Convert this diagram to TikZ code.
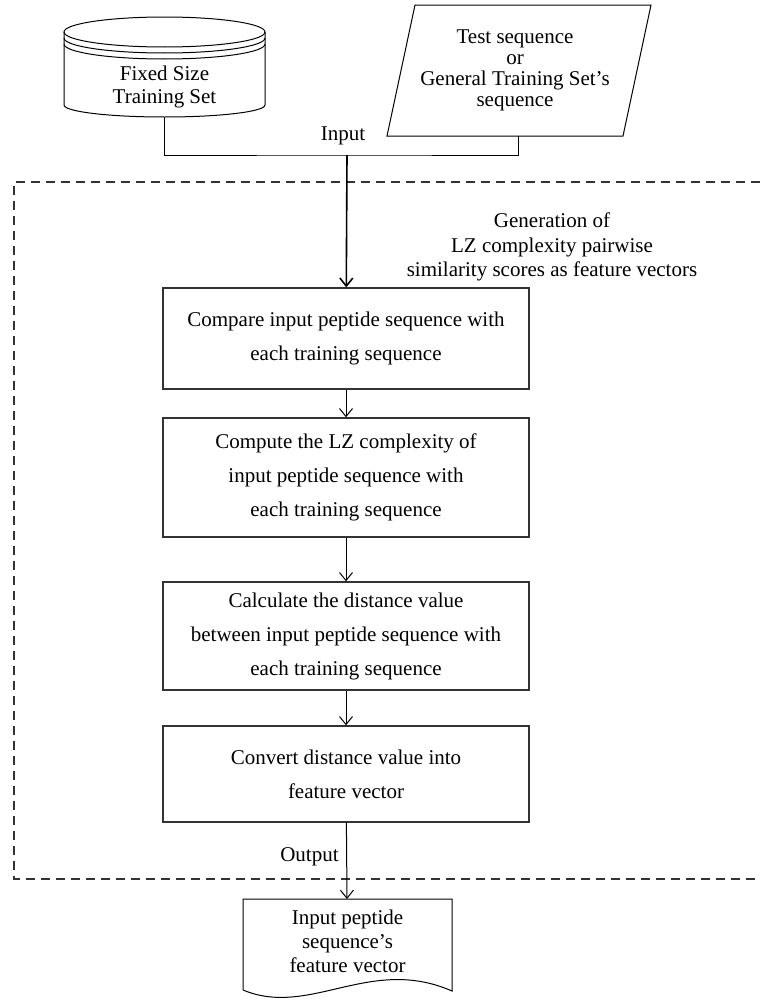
\documentclass[tikz,border=0pt]{standalone}
\usepackage{fontspec}
\setmainfont{Liberation Serif}
\usetikzlibrary{arrows.meta}

\tikzset{
  txt/.style={align=center,inner sep=0pt,font=\fontsize{21}{23}\selectfont},
  stepbox/.style={draw=black!80,line width=1.4pt,minimum width=366pt,align=center,font=\fontsize{21}{34}\selectfont},
  conn/.style={line width=1pt},
  arr/.style={line width=1pt,-{Straight Barb[length=8pt,width=13pt]}},
  frame/.style={dash pattern=on 9pt off 6pt,line width=1.2pt,draw=black!80},
}

\begin{document}
\begin{tikzpicture}[x=1pt,y=-1pt]
\useasboundingbox (0,0) rectangle (760,1001);

% training set
\draw[conn] (164.5,32) ellipse [x radius=100.5,y radius=15];
\draw[conn] (64,38) arc[start angle=180,end angle=0,x radius=100.5,y radius=15];
\draw[conn] (64,44) arc[start angle=180,end angle=0,x radius=100.5,y radius=15];
\draw[conn] (64,32) -- (64,105) arc[start angle=180,end angle=0,x radius=100.5,y radius=12] -- (265,32);
\node[txt] (train) at (164.5,87) {Fixed Size\\Training Set};
\coordinate (trainbot) at (164.5,117);

% test sequence
\draw[conn] (415,5) -- (651,5) -- (623,136) -- (387,136) -- cycle;
\node[txt,font=\fontsize{21}{21}\selectfont] (test) at (515,70) {Test sequence\\or\\General Training Set’s\\sequence};
\coordinate (testbot) at (518,136);

\node[txt] (inlbl) at (343,136) {Input};
\coordinate (join) at (347,155);
\draw[conn] (trainbot) |- (join) -| (testbot);

% dashed frame
\draw[frame] (760,182) -- (14,182) -- (14,879) -- (760,879);
\node[txt,font=\fontsize{21}{24.5}\selectfont] (gen) at (552,247) {Generation of\\LZ complexity pairwise\\similarity scores as feature vectors};

\node[stepbox,minimum height=101pt] (cmp) at (346,338.5) {Compare input peptide sequence with\\each training sequence};
\node[stepbox,minimum height=119pt] (lz) at (346,477.5) {Compute the LZ complexity of\\input peptide sequence with\\each training sequence};
\node[stepbox,minimum height=108pt] (dist) at (346,636) {Calculate the distance value\\between input peptide sequence with\\each training sequence};
\node[stepbox,minimum height=96pt] (conv) at (346,774) {Convert distance value into\\feature vector};

\draw[arr,line width=1.6pt] (join) -- (cmp);
\draw[arr] (cmp) -- (lz);
\draw[arr] (lz) -- (dist);
\draw[arr] (dist) -- (conv);

% output
\node[txt] (outlbl) at (309.5,857) {Output};
\node[txt,font=\fontsize{21}{24}\selectfont] (vec) at (347.5,941) {Input peptide\\sequence’s\\feature vector};
\coordinate (vectop) at (347,899);
\draw[arr] (conv) -- (vectop);
\draw[conn] (243,990) -- (243,899) -- (452,899) -- (452,991) .. controls (370,955) and (310,1018) .. (243,990);
\end{tikzpicture}
\end{document}
